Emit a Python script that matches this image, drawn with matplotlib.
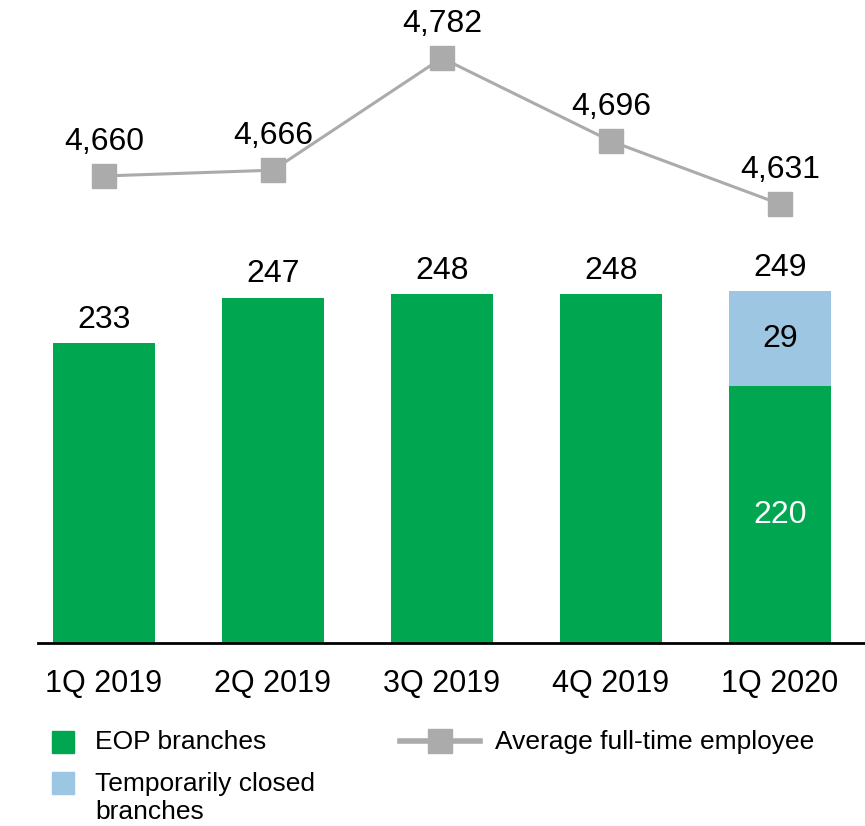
import matplotlib
matplotlib.use("Agg")
import matplotlib.pyplot as plt
from matplotlib.patches import Rectangle
from matplotlib.lines import Line2D

plt.rcParams['font.family'] = ['Liberation Sans', 'DejaVu Sans']

quarters = ["1Q 2019", "2Q 2019", "3Q 2019", "4Q 2019", "1Q 2020"]
eop_branches = [233, 247, 248, 248, 220]
closed_branches = [0, 0, 0, 0, 29]
avg_employees = [4660, 4666, 4782, 4696, 4631]

GREEN = "#00A650"
BLUE = "#9CC6E2"
GRAY = "#ABABAB"

W, H = 865, 826
fig = plt.figure(figsize=(W / 100, H / 100), dpi=100)
ax = fig.add_axes([38 / W, 1 - 643 / H, 1 - 38 / W, 643 / H])

x = list(range(len(quarters)))
ax.bar(x, eop_branches, width=0.6, color=GREEN, bottom=0, zorder=2)
ax.bar(x, closed_branches, width=0.6, color=BLUE, bottom=eop_branches, zorder=2)
ax.set_xlim(-0.39, 4.503)
ax.set_ylim(141.6, 337.8)

totals = [a + b for a, b in zip(eop_branches, closed_branches)]
for i, t in enumerate(totals):
    ax.annotate(f"{t}", (i, t), xytext=(0, 6), textcoords="offset points",
                ha="center", va="bottom", fontsize=23, color="black")
for i, (e, c) in enumerate(zip(eop_branches, closed_branches)):
    if c > 0:
        ax.text(i, e + c / 2, f"{c}", ha="center", va="center", fontsize=23, color="black")
        ax.text(i, (ax.get_ylim()[0] + e) / 2, f"{e}", ha="center", va="center",
                fontsize=23, color="white")

for s in ["top", "right", "left"]:
    ax.spines[s].set_visible(False)
ax.spines["bottom"].set_linewidth(2)
ax.spines["bottom"].set_color("black")
ax.set_yticks([])
ax.set_xticks(x)
ax.set_xticklabels(quarters, fontsize=22)
ax.tick_params(axis="x", length=0, pad=19)

# Employee line on its own scale
ax2 = ax.twinx()
ax2.plot(x, avg_employees, color=GRAY, lw=2.2, marker="s", markersize=17,
         markerfacecolor=GRAY, markeredgecolor=GRAY, zorder=3)
ax2.set_ylim(4177, 4842)
ax2.set_yticks([])
for s in ["top", "right", "left", "bottom"]:
    ax2.spines[s].set_visible(False)
for i, v in enumerate(avg_employees):
    ax2.annotate(f"{v:,}", (i, v), xytext=(0, 14), textcoords="offset points",
                 ha="center", va="bottom", fontsize=23, color="black")

# Legend
def px(xp, yp):
    return xp / W, 1 - yp / H

fig.patches.append(Rectangle(px(52, 753), 22 / W, 22 / H, transform=fig.transFigure,
                             color=GREEN, figure=fig))
fig.text(*px(95, 742), "EOP branches", fontsize=19, va="center", ha="left")
fig.patches.append(Rectangle(px(52, 794), 22 / W, 22 / H, transform=fig.transFigure,
                             color=BLUE, figure=fig))
fig.text(*px(95, 798), "Temporarily closed\nbranches", fontsize=19, va="center",
         ha="left", linespacing=1.2)
fig.lines.append(Line2D([400 / W, 480 / W], [1 - 741 / H] * 2, transform=fig.transFigure,
                        color=GRAY, lw=4, figure=fig))
fig.lines.append(Line2D([440 / W], [1 - 741 / H], transform=fig.transFigure, marker="s",
                        markersize=17, color=GRAY, lw=0, figure=fig))
fig.text(*px(495, 742), "Average full-time employee", fontsize=19, va="center", ha="left")

fig.savefig("out.png", dpi=100)
